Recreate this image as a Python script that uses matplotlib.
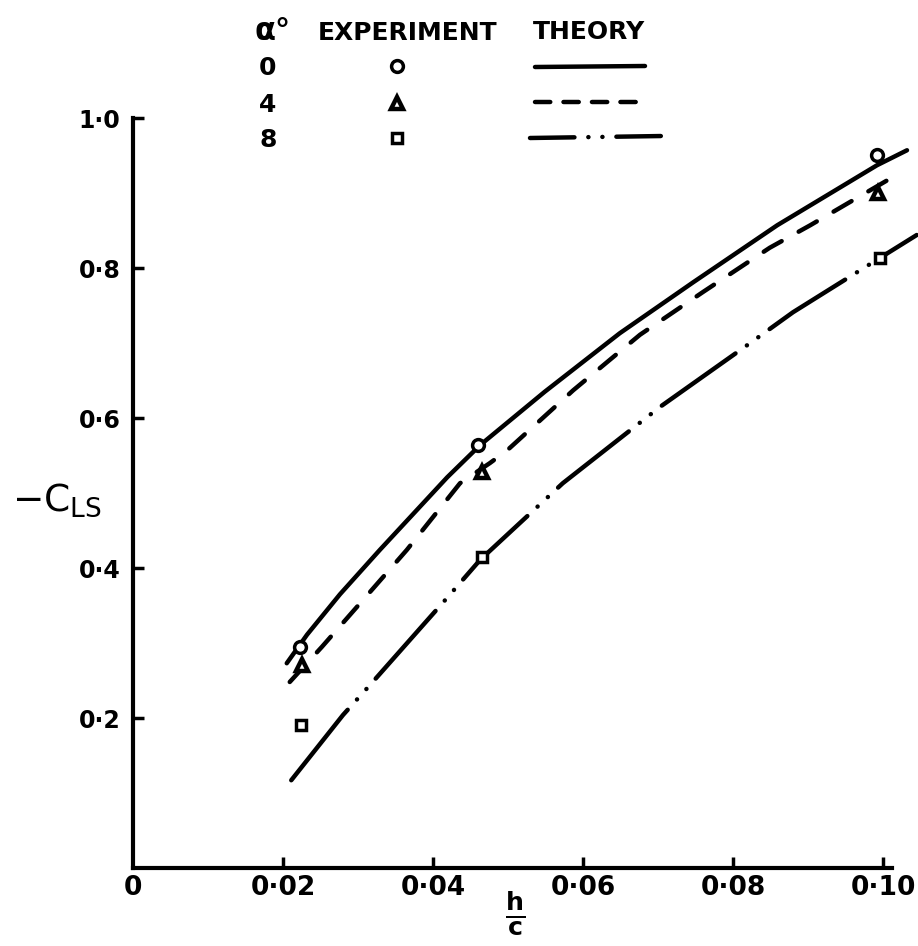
import matplotlib
matplotlib.use('Agg')
import matplotlib.pyplot as plt
from matplotlib.lines import Line2D

plt.rcParams['font.family'] = ['DejaVu Sans']
plt.rcParams['lines.scale_dashes'] = False

# theory curves
th0_x = [0.0205, 0.0232, 0.0276, 0.0329, 0.0419, 0.0463, 0.0549, 0.0649, 0.0747, 0.0859, 0.0992, 0.1032]
th0_y = [0.273, 0.311, 0.365, 0.424, 0.521, 0.564, 0.635, 0.713, 0.781, 0.857, 0.937, 0.957]
th4_x = [0.0209, 0.0252, 0.0316, 0.0365, 0.0436, 0.0476, 0.0499, 0.0587, 0.0676, 0.0760, 0.0849, 0.0903, 0.0956, 0.1023]
th4_y = [0.248, 0.295, 0.368, 0.424, 0.513, 0.540, 0.557, 0.637, 0.711, 0.768, 0.827, 0.857, 0.888, 0.927]
th8_x = [0.0211, 0.0280, 0.0316, 0.0416, 0.0463, 0.0573, 0.0703, 0.0823, 0.0880, 0.0992, 0.1045]
th8_y = [0.117, 0.204, 0.244, 0.357, 0.411, 0.513, 0.615, 0.700, 0.741, 0.811, 0.844]

# experiment points
ex0_x = [0.0223, 0.0460, 0.0992]
ex0_y = [0.295, 0.564, 0.951]
ex4_x = [0.0225, 0.0465, 0.0993]
ex4_y = [0.271, 0.528, 0.900]
ex8_x = [0.0224, 0.0465, 0.0996]
ex8_y = [0.191, 0.415, 0.813]

xticks = [0, 0.02, 0.04, 0.06, 0.08, 0.10]
xlabels = ['0', '0·02', '0·04', '0·06', '0·08', '0·10']
yticks = [0.2, 0.4, 0.6, 0.8, 1.0]
ylabels = ['0·2', '0·4', '0·6', '0·8', '1·0']

W, H = 918, 946
fig = plt.figure(figsize=(W / 100, H / 100), dpi=100)
ax = fig.add_axes([133 / W, 78 / H, 785 / W, 750 / H])
ax.set_xlim(0, 785 / 7500)
ax.set_ylim(0, 1.0)

lw = 3.2
ax.plot(th0_x, th0_y, color='black', lw=lw, solid_capstyle='round', clip_on=False)
ax.plot(th4_x, th4_y, color='black', lw=lw, ls=(0, (15, 14)), dash_capstyle='round', clip_on=False)
ax.plot(th8_x, th8_y, color='black', lw=lw, ls=(0, (65, 10, 0.1, 10, 0.1, 10)),
        dash_capstyle='round', clip_on=False)

mk = dict(ls='none', color='black', mfc='white', mew=2.5, ms=8.5, clip_on=False, zorder=5)
ax.plot(ex0_x, ex0_y, marker='o', **mk)
ax.plot(ex4_x, ex4_y, marker='^', **{**mk, 'mew': 3.2, 'ms': 8})
ax.plot(ex8_x, ex8_y, marker='s', **{**mk, 'ms': 7.5})

for s in ['top', 'right']:
    ax.spines[s].set_visible(False)
for s in ['left', 'bottom']:
    ax.spines[s].set_linewidth(3)
ax.spines['bottom'].set_bounds(0, 0.1012)
ax.spines['left'].set_bounds(0, 1.0)

ax.set_xticks(xticks)
ax.set_xticklabels(xlabels, fontsize=19, fontweight='bold')
ax.xaxis.get_major_ticks()[0].tick1line.set_visible(False)
ax.set_yticks(yticks)
ax.set_yticklabels(ylabels, fontsize=17, fontweight='bold')
ax.tick_params(direction='in', length=8, width=2.5, pad=5)
ax.tick_params(axis='y', pad=9)


def fx(x):
    return x / W


def fy(y):
    return 1 - y / H


# axis titles
fig.text(fx(12), fy(500), r'$-\mathrm{C}_{\mathrm{LS}}$', fontsize=27, ha='left', va='center')
fig.text(fx(515), fy(913), r'$\mathbf{\frac{h}{c}}$', fontsize=26, ha='center', va='center')

# legend table
hdr = dict(fontsize=18, fontweight='bold', va='center')
fig.text(fx(255), fy(32), 'α°', fontsize=22, fontweight='bold', ha='left', va='center')
fig.text(fx(318), fy(33), 'EXPERIMENT', ha='left', **hdr)
fig.text(fx(533), fy(32), 'THEORY', ha='left', **hdr)
alphas = ['0', '4', '8']
rows_y = [68, 105, 140]
for a, ry in zip(alphas, rows_y):
    fig.text(fx(268), fy(ry), a, ha='center', **hdr)

for m, ry, ms, mw in zip(['o', '^', 's'], rows_y, [8.5, 8, 7.5], [2.5, 3.2, 2.5]):
    fig.add_artist(Line2D([fx(397)], [fy(ry - 2)], marker=m, color='black', mfc='white',
                          mew=mw, ms=ms, ls='none', transform=fig.transFigure))
fig.add_artist(Line2D([fx(535), fx(645)], [fy(67), fy(66)], color='black', lw=lw,
                      solid_capstyle='round', transform=fig.transFigure))
fig.add_artist(Line2D([fx(535), fx(647)], [fy(102), fy(102)], color='black', lw=lw,
                      ls=(0, (11, 9.5)), dash_capstyle='round', transform=fig.transFigure))
fig.add_artist(Line2D([fx(530), fx(663)], [fy(138), fy(136)], color='black', lw=lw,
                      ls=(0, (32, 10, 0.1, 10, 0.1, 10)), dash_capstyle='round',
                      transform=fig.transFigure))

fig.savefig('out.png', dpi=100)
